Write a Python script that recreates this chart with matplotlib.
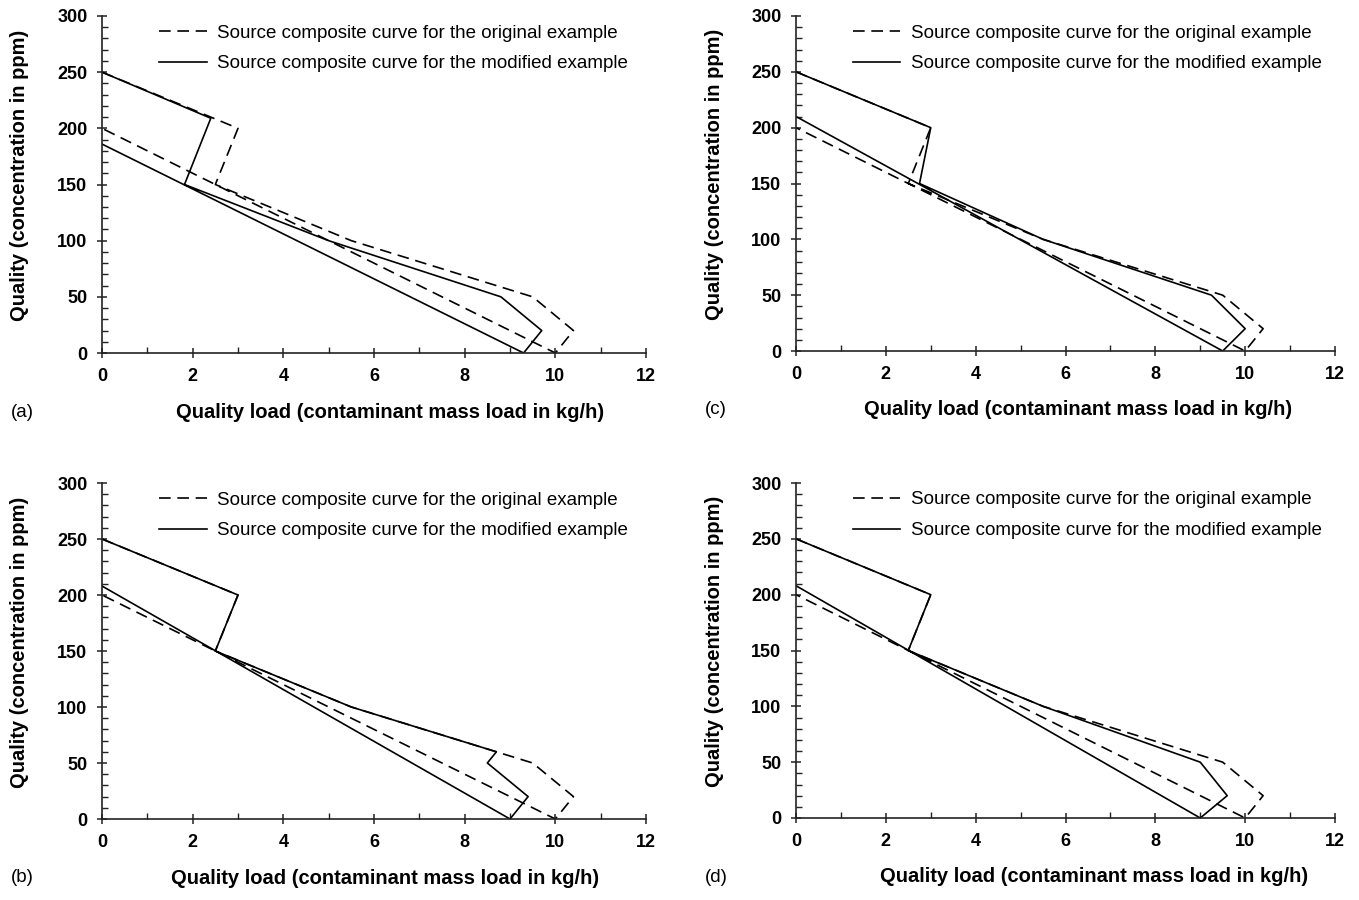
import matplotlib
matplotlib.use("Agg")
import matplotlib.pyplot as plt
from matplotlib.ticker import MultipleLocator

plt.rcParams['font.family'] = ['Liberation Sans', 'DejaVu Sans']

# Original example (same in all panels)
orig_x = [0, 3.0, 2.5, 5.5, 9.5, 10.4, 10.0, 0]
orig_y = [250, 200, 150, 100, 50, 20, 0, 200]

# Modified examples
mod_a_x = [0, 2.4, 1.82, 5.0, 8.8, 9.7, 9.3, 0]
mod_a_y = [250, 209, 150, 100, 50, 20, 0, 186]
mod_b_x = [0, 3.0, 2.5, 5.5, 8.7, 8.5, 9.4, 9.0, 0]
mod_b_y = [250, 200, 150, 100, 60, 50, 20, 0, 208]
mod_c_x = [0, 3.0, 2.75, 5.5, 9.25, 10.0, 9.5, 0]
mod_c_y = [250, 200, 150, 100, 50, 20, 0, 210]
mod_d_x = [0, 3.0, 2.5, 5.5, 9.0, 9.6, 9.0, 0]
mod_d_y = [250, 200, 150, 100, 50, 20, 0, 208]

panel_labels = ["(a)", "(b)", "(c)", "(d)"]
legend_labels = ["Source composite curve for the original example",
                 "Source composite curve for the modified example"]
xlabel = "Quality load (contaminant mass load in kg/h)"
ylabel = "Quality (concentration in ppm)"
xticks = [0, 2, 4, 6, 8, 10, 12]
yticks = [0, 50, 100, 150, 200, 250, 300]

W, H = 1359, 900
fig = plt.figure(figsize=(W / 100, H / 100), dpi=100)

# pixel boxes: (x0, x12, y300, y0)
boxes = {
    "(a)": (102, 646, 16, 353),
    "(c)": (796, 1335, 16, 351),
    "(b)": (102, 646, 483, 819),
    "(d)": (796, 1335, 483, 818),
}
mods = {"(a)": (mod_a_x, mod_a_y), "(b)": (mod_b_x, mod_b_y),
        "(c)": (mod_c_x, mod_c_y), "(d)": (mod_d_x, mod_d_y)}
xlab_center = {"(a)": 390, "(b)": 385, "(c)": 1078, "(d)": 1094}

for lab in panel_labels:
    x0, x1, yt, yb = boxes[lab]
    ax = fig.add_axes([x0 / W, 1 - yb / H, (x1 - x0) / W, (yb - yt) / H])
    l1, = ax.plot(orig_x, orig_y, color='black', lw=1.2, linestyle=(0, (7, 4)))
    mx, my = mods[lab]
    l2, = ax.plot(mx, my, color='black', lw=1.2)
    ax.set_xlim(0, 12)
    ax.set_ylim(0, 300)
    ax.xaxis.set_major_locator(MultipleLocator(2))
    ax.xaxis.set_minor_locator(MultipleLocator(1))
    ax.yaxis.set_major_locator(MultipleLocator(50))
    ax.yaxis.set_minor_locator(MultipleLocator(10))
    for s in ['top', 'right']:
        ax.spines[s].set_visible(False)
    for s in ['left', 'bottom']:
        ax.spines[s].set_linewidth(1.2)
        ax.spines[s].set_color('#222222')
    ax.tick_params(which='major', direction='inout', length=7, width=1.1,
                   color='#222222', pad=7)
    ax.tick_params(which='minor', direction='in', length=4, width=1.0, color='#222222')
    ax.set_xticks(xticks)
    ax.set_xticklabels([str(v) for v in xticks], fontweight='bold', fontsize=13)
    ax.set_yticks(yticks)
    ax.set_yticklabels([str(v) for v in yticks], fontweight='bold', fontsize=13)
    ax.patch.set_alpha(0)

    ax.legend([l1, l2], legend_labels, loc='upper left',
              bbox_to_anchor=(0.105, 0.975), frameon=False, fontsize=13.5,
              handlelength=2.55, handletextpad=0.55, labelspacing=0.72,
              borderpad=0, borderaxespad=0)

    fig.text(xlab_center[lab] / W, 1 - (yb + 59) / H, xlabel, ha='center', va='center',
             fontsize=14.5, fontweight='bold')
    fig.text((x0 - 82) / W, 1 - ((yt + yb) / 2 - 9) / H, ylabel, ha='center', va='center',
             rotation=90, fontsize=14.5, fontweight='bold')
    fig.text((x0 - 80) / W, 1 - (yb + 59) / H, lab, ha='center', va='center', fontsize=13.5)

fig.savefig("out.png", dpi=100)
